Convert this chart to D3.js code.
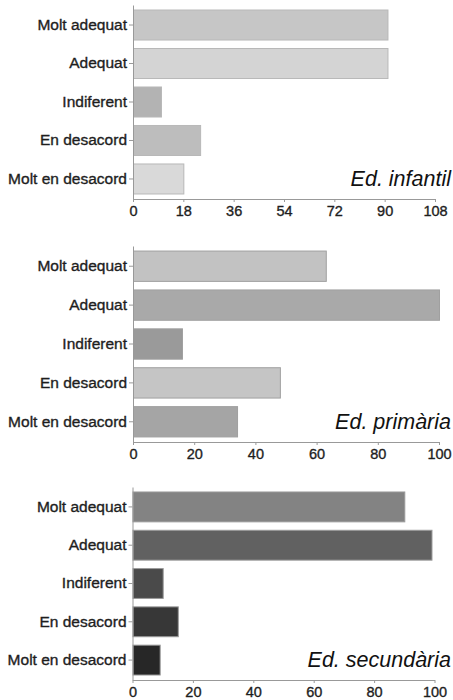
<!DOCTYPE html>
<html><head><meta charset="utf-8">
<script src="https://cdn.jsdelivr.net/npm/d3@7"></script>
<style>
body{margin:0;background:#fff;}
svg{display:block;font-family:"Liberation Sans",Arial,Helvetica,sans-serif;}
.axis text{fill:#1e1e1e;stroke:#1e1e1e;stroke-width:0.35px;}
.axis path,.axis line{stroke:#999;}
</style></head>
<body>
<svg id="c" width="453" height="700"></svg>
<script>
const categories = ["Molt adequat","Adequat","Indiferent","En desacord","Molt en desacord"];
const titles = ["Ed. infantil","Ed. primària","Ed. secundària"];
const infantilValues = [91, 91, 10, 24, 18];
const primariaValues = [63, 100, 16, 48, 34];
const secundariaValues = [90, 99, 10, 15, 9];
const infantilTicks = [0, 18, 36, 54, 72, 90, 108];
const primariaTicks = [0, 20, 40, 60, 80, 100];
const secundariaTicks = [0, 20, 40, 60, 80, 100];
const infantilColors = ["#c6c6c6","#d4d4d4","#b3b3b3","#bdbdbd","#d9d9d9"];
const primariaColors = ["#c2c2c2","#a9a9a9","#9a9a9a","#c5c5c5","#a5a5a5"];
const secundariaColors = ["#838383","#616161","#4a4a4a","#373737","#272727"];

const panels = [
  {values: infantilValues, ticks: infantilTicks, colors: infantilColors, title: titles[0], max: 108, x0: 133, x1: 435, top: 5, bottom: 199, stroke:"#b8b8b8"},
  {values: primariaValues, ticks: primariaTicks, colors: primariaColors, title: titles[1], max: 100, x0: 133, x1: 439, top: 246, bottom: 442, stroke:"#a0a0a0"},
  {values: secundariaValues, ticks: secundariaTicks, colors: secundariaColors, title: titles[2], max: 100, x0: 132.5, x1: 434.5, top: 487, bottom: 680, stroke:"#9a9a9a"}
];

const svg = d3.select("#c");
panels.forEach(p => {
  const x = d3.scaleLinear().domain([0, p.max]).range([p.x0, p.x1]);
  const y = d3.scaleBand().domain(categories).range([p.top, p.bottom]).paddingInner(0.22).paddingOuter(0.13);
  const g = svg.append("g");
  g.selectAll("rect").data(p.values).join("rect")
    .attr("x", x(0) + 0.5)
    .attr("y", (d,i) => y(categories[i]))
    .attr("width", d => x(d) - x(0))
    .attr("height", y.bandwidth())
    .attr("fill", (d,i) => p.colors[i])
    .attr("stroke", p.stroke).attr("stroke-width", 1);
  const ya = g.append("g").attr("class","axis").attr("transform",`translate(${p.x0},0)`)
    .call(d3.axisLeft(y).tickSizeOuter(0).tickSizeInner(4).tickPadding(2));
  ya.selectAll("text").style("font-size","15.5px");
  const xa = g.append("g").attr("class","axis").attr("transform",`translate(0,${p.bottom})`)
    .call(d3.axisBottom(x).tickValues(p.ticks).tickFormat(d3.format("d")).tickSizeOuter(0).tickSizeInner(3).tickPadding(4));
  xa.selectAll("text").style("font-size","14.5px");
  g.append("text").attr("x", 451).attr("y", y(categories[4]) + y.bandwidth() - 8)
    .attr("text-anchor","end").style("font-style","italic").style("font-size","21.5px").attr("fill","#111")
    .text(p.title);
});
</script>
</body></html>
